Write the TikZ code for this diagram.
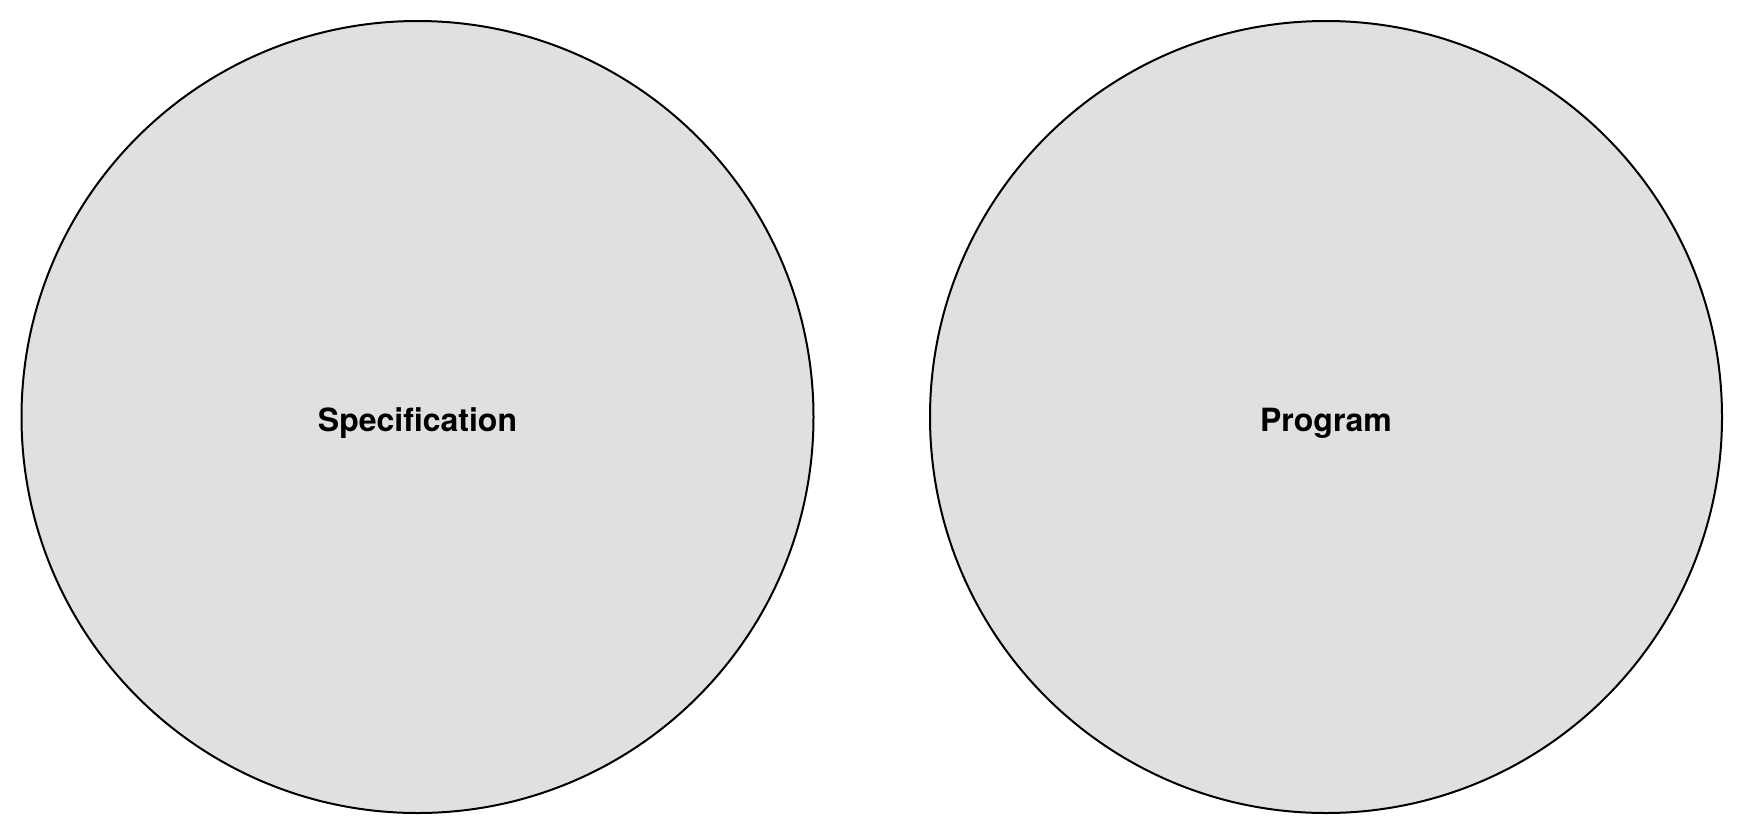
\documentclass[tikz,border=0pt]{standalone}
\usepackage{fontspec}
\setmainfont{TeX Gyre Heros}
\definecolor{circfill}{HTML}{E0E0E0}
\tikzset{setcircle/.style={circle,draw=black,fill=circfill,line width=2pt,minimum size=792pt,inner sep=0pt,text height=28pt,text depth=0pt,font=\fontsize{32}{38}\selectfont\bfseries}}
\begin{document}
\begin{tikzpicture}[x=1pt,y=-1pt]
\useasboundingbox (0,0) rectangle (1746,836);
\node[setcircle] (spec) at (417.5,417) {Specification};
\node[setcircle] (prog) at (1326,417) {Program};
\end{tikzpicture}
\end{document}
